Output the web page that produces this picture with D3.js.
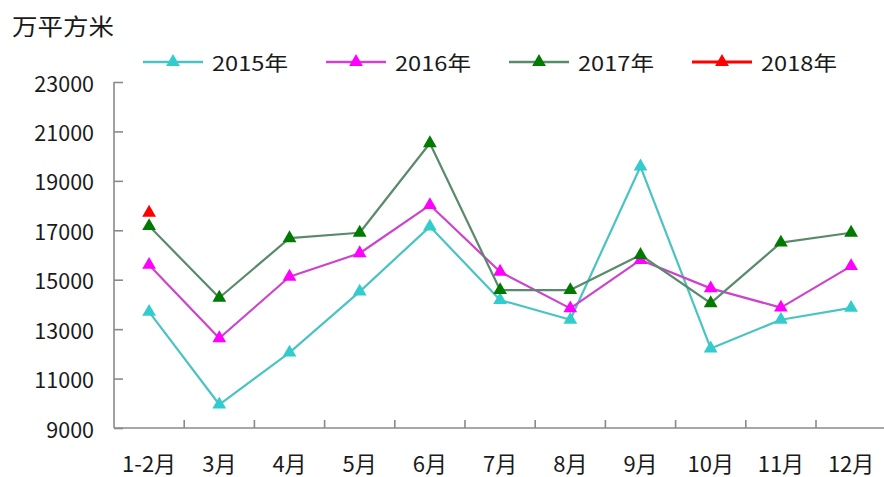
<!DOCTYPE html>
<html>
<head>
<meta charset="utf-8">
<script src="https://cdn.jsdelivr.net/npm/d3@7"></script>
<style>
  html, body { margin: 0; padding: 0; background: #ffffff; }
  svg { display: block; }
  text { font-family: "Noto Sans CJK SC", "Noto Sans", sans-serif; fill: #1a1a1a; }
</style>
</head>
<body>
<svg id="chart" width="884" height="477"></svg>
<script>
// Monthly floor area, unit: 万平方米
const months = ["1-2月", "3月", "4月", "5月", "6月", "7月", "8月", "9月", "10月", "11月", "12月"];
const yTicks = [9000, 11000, 13000, 15000, 17000, 19000, 21000, 23000];

const v2015 = [13700, 9950, 12050, 14520, 17150, 14180, 13380, 19580, 12220, 13380, 13860];
const v2016 = [15600, 12630, 15120, 16070, 18020, 15320, 13840, 15800, 14650, 13870, 15550];
const v2017 = [17170, 14270, 16680, 16900, 20520, 14580, 14580, 16000, 14050, 16500, 16900];
const v2018 = [17710];

const series = [
  { name: "2015年", values: v2015, line: "#4bc3c3", marker: "#33cccc" },
  { name: "2016年", values: v2016, line: "#cc44cc", marker: "#ff00ff" },
  { name: "2017年", values: v2017, line: "#5a8a6c", marker: "#007a00" },
  { name: "2018年", values: v2018, line: "#ff0000", marker: "#ff0000" }
];

const svg = d3.select("#chart");
const left = 114, bandW = 70.2;
const x = d3.scaleBand().domain(months).range([left, left + bandW * months.length]).padding(0);
const y = d3.scaleLinear().domain([9000, 23000]).range([428, 82]);
const cx = m => x(m) + x.bandwidth() / 2;
const axisColor = "#8a8a8a";

// Y axis: line with inner ticks
const yAxis = svg.append("g").attr("transform", `translate(${left},0)`)
  .call(d3.axisRight(y).tickValues(yTicks).tickSize(9).tickFormat(""));
yAxis.select(".domain").attr("stroke", axisColor).attr("stroke-width", 1.6).attr("d", `M0,${y(23000)}V${y(9000)}`);
yAxis.selectAll(".tick line").attr("stroke", axisColor).attr("stroke-width", 1.6);

svg.append("g").selectAll("text").data(yTicks).join("text")
  .attr("x", 94).attr("y", d => y(d)).attr("text-anchor", "end")
  .attr("dominant-baseline", "central").style("font-size", "21.5px")
  .text(d => d);

// X axis: baseline with upward ticks at category boundaries
const xg = svg.append("g");
xg.append("line").attr("x1", left).attr("x2", 884).attr("y1", y(9000)).attr("y2", y(9000))
  .attr("stroke", axisColor).attr("stroke-width", 1.6);
xg.selectAll("line.tk").data(months.slice(1)).join("line").attr("class", "tk")
  .attr("x1", d => x(d)).attr("x2", d => x(d))
  .attr("y1", y(9000)).attr("y2", y(9000) - 8)
  .attr("stroke", axisColor).attr("stroke-width", 1.6);
xg.selectAll("text").data(months).join("text")
  .attr("x", d => cx(d)).attr("y", 462)
  .attr("text-anchor", "middle").attr("dominant-baseline", "central")
  .style("font-size", "22px").text(d => d);

// Unit label
svg.append("text").attr("x", 12).attr("y", 25).attr("dominant-baseline", "central")
  .style("font-size", "23px").attr("textLength", 102).attr("lengthAdjust", "spacingAndGlyphs")
  .text("万平方米");

// Lines and triangle markers
const line = d3.line().x((d, i) => cx(months[i])).y(d => y(d));
const tri = d3.symbol().type(d3.symbolTriangle).size(82);

series.forEach(s => {
  const g = svg.append("g");
  g.append("path").datum(s.values).attr("d", line)
    .attr("fill", "none").attr("stroke", s.line).attr("stroke-width", 2.2)
    .attr("stroke-linejoin", "round");
  g.selectAll("path.m").data(s.values).join("path").attr("class", "m")
    .attr("d", tri)
    .attr("transform", (d, i) => `translate(${cx(months[i])},${y(d)})`)
    .attr("fill", s.marker);
});

// Legend
const legendX = [143, 326, 509, 692];
const lg = svg.append("g").selectAll("g").data(series).join("g")
  .attr("transform", (d, i) => `translate(${legendX[i]},62)`);
lg.append("line").attr("x1", 0).attr("x2", 60).attr("y1", 0).attr("y2", 0)
  .attr("stroke", d => d.line).attr("stroke-width", d => d.name === "2018年" ? 3 : 2.6);
lg.append("path").attr("d", tri).attr("transform", "translate(30,0)").attr("fill", d => d.marker);
lg.append("text").attr("x", 69).attr("y", 0).attr("dominant-baseline", "central")
  .style("font-size", "20px").attr("textLength", 76).attr("lengthAdjust", "spacingAndGlyphs")
  .text(d => d.name);
</script>
</body>
</html>
